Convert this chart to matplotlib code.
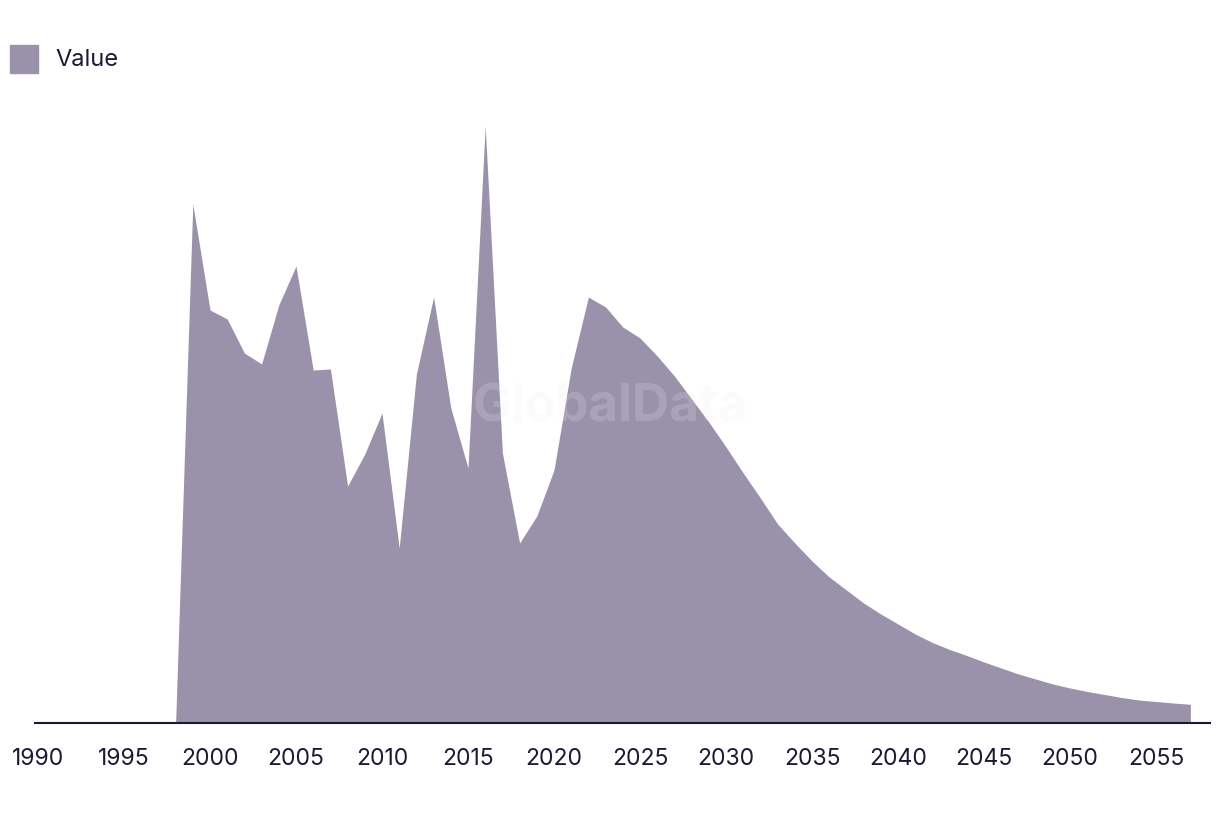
#!/usr/bin/env python3
# -*- coding: utf-8 -*-

import matplotlib.pyplot as plt
from matplotlib.patches import Rectangle

# Donnees (unites arbitraires)
years = list(range(1990, 2058))
values = [0, 0, 0, 0, 0, 0, 0, 0,
          0.0, 51.9, 41.3, 40.4, 37.0, 35.9, 41.8, 45.7, 35.3, 35.4,
          23.7, 26.9, 31.0, 17.5, 34.9, 42.6, 31.5, 25.5, 59.7, 27.0,
          18.0, 20.7, 25.3, 35.5, 42.6, 41.6, 39.6, 38.5, 36.7, 34.7,
          32.4, 30.1, 27.6, 25.0, 22.5, 19.9, 18.0, 16.2, 14.6, 13.3,
          12.0, 10.9, 9.9, 8.9, 8.05, 7.35, 6.75, 6.1, 5.5, 4.9,
          4.4, 3.9, 3.5, 3.15, 2.85, 2.55, 2.3, 2.15, 2.0, 1.87]
tick_years = list(range(1990, 2056, 5))
series_name = "Value"

fill_color = "#9a92ab"
text_color = "#1c1a33"

fig = plt.figure(figsize=(12.2, 8.16), dpi=100)
ax = fig.add_axes([35 / 1220, 93 / 816, 1175 / 1220, 623 / 816])

ax.fill_between(years, values, 0, color=fill_color, linewidth=0)

ax.set_xlim(1990 - 3 / 17.2, 1990 + (1210 - 38) / 17.2)
ax.set_ylim(0, 62.3)

for side in ["top", "right", "left"]:
    ax.spines[side].set_visible(False)
ax.spines["bottom"].set_color(text_color)
ax.spines["bottom"].set_linewidth(1.5)
ax.spines["bottom"].set_zorder(5)

ax.set_xticks(tick_years)
ax.set_xticklabels([str(y) for y in tick_years], fontsize=16.5, color=text_color,
                   family=["Inter", "DejaVu Sans"])
ax.tick_params(axis="x", length=0, pad=18)
ax.set_yticks([])

# Filigrane
ax.text(0.5, 0.5, "GlobalData", transform=fig.transFigure, ha="center", va="center",
        fontsize=37, fontweight="bold", color="#ececec", alpha=0.2,
        family=["Inter", "DejaVu Sans"])

# Legende
fig.patches.append(Rectangle((10 / 1220, 1 - 73 / 816), 28 / 1220, 28 / 816,
                             transform=fig.transFigure, color=fill_color))
fig.text(55 / 1220, 1 - 60 / 816, series_name, fontsize=17, color=text_color,
         va="center", ha="left", family=["Inter", "DejaVu Sans"])

fig.savefig("out.png", dpi=100)
